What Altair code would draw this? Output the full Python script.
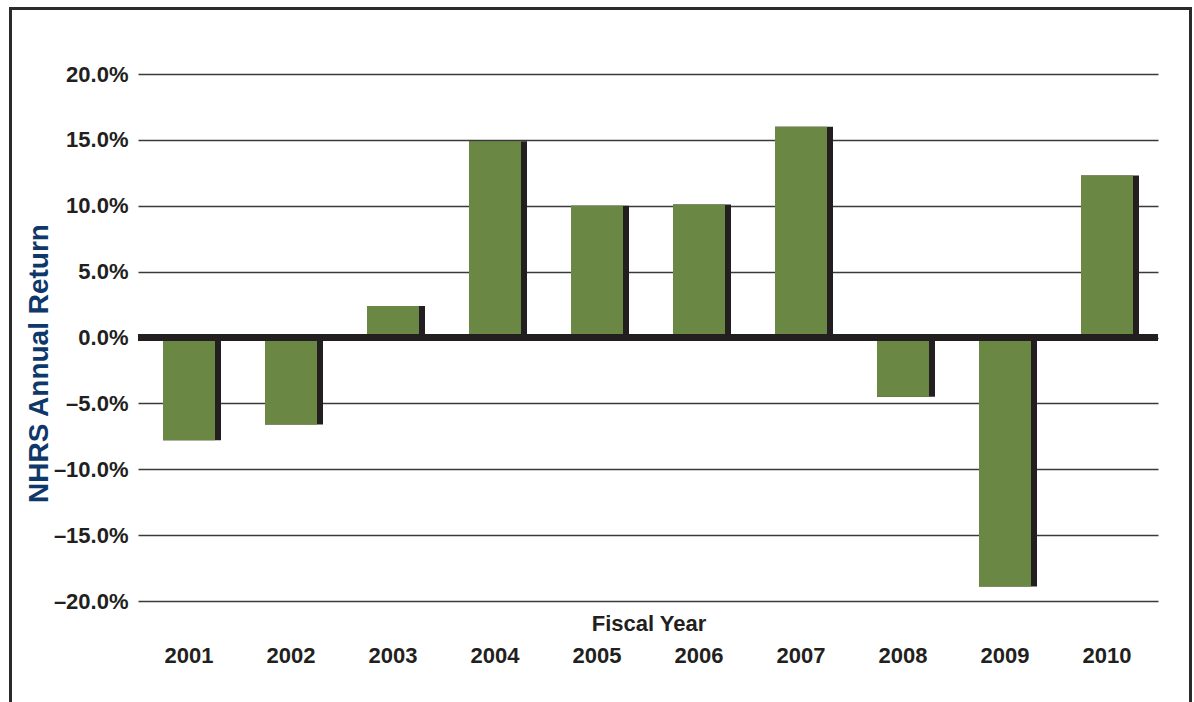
import altair as alt
import pandas as pd

years = ["2001", "2002", "2003", "2004", "2005", "2006", "2007", "2008", "2009", "2010"]
returns = [-7.8, -6.6, 2.4, 14.9, 10.0, 10.1, 16.0, -4.5, -18.9, 12.3]
y_ticks = [-20, -15, -10, -5, 0, 5, 10, 15, 20]

df = pd.DataFrame({"year": years, "ret": returns})

GREEN = "#6a8743"
DARK = "#231f20"
NAVY = "#0f386a"
SANS = "Liberation Sans, Arial, sans-serif"

x = alt.X(
    "year:N",
    sort=years,
    scale=alt.Scale(paddingInner=0.5, paddingOuter=0.25),
    axis=alt.Axis(
        title="Fiscal Year",
        labelFont=SANS,
        labelFontSize=22,
        labelFontWeight="bold",
        labelColor=DARK,
        labelAngle=0,
        labelBaseline="alphabetic",
        labelPadding=61,
        ticks=False,
        domain=False,
        grid=False,
        titleFont=SANS,
        titleFontSize=22,
        titleFontWeight="bold",
        titleColor=DARK,
        titleX=510.5,
        titleY=29,
        titleAlign="center",
        titleBaseline="alphabetic",
    ),
)

y = alt.Y(
    "ret:Q",
    scale=alt.Scale(domain=[-20, 20], nice=False, zero=False),
    axis=alt.Axis(
        values=y_ticks,
        labelExpr="datum.value < 0 ? '\u2013' + format(-datum.value, '.1f') + '%' : format(datum.value, '.1f') + '%'",
        labelFont=SANS,
        labelFontSize=22,
        labelFontWeight="bold",
        labelColor=DARK,
        labelPadding=10,
        ticks=False,
        domain=False,
        grid=True,
        gridColor="#3a3a3a",
        gridWidth=1.6,
        title="NHRS Annual Return",
        titleFont=SANS,
        titleFontSize=28,
        titleFontWeight="bold",
        titleColor=NAVY,
        titleAngle=270,
        titleAlign="center",
        titleBaseline="alphabetic",
        titleX=-91,
        titleY=289,
    ),
)

base = alt.Chart(df)

frame = alt.Chart(pd.DataFrame({"a": [0]})).mark_rect(
    fillOpacity=0, stroke="#2b2b2b", strokeWidth=3
).encode(
    x=alt.value(-127.5), x2=alt.value(1052.5), y=alt.value(-65.5), y2=alt.value(700)
)

shadow = base.mark_bar(width=58, xOffset=3, color=DARK).encode(x=x, y=y)
bars = base.mark_bar(width=52, color=GREEN).encode(x=x, y=y)
zero = base.mark_rule(color=DARK, strokeWidth=6).encode(y=alt.datum(0))

chart = alt.layer(frame, shadow, bars, zero).properties(
    width=1020,
    height=527,
    padding={"left": 138, "top": 74, "right": 36, "bottom": 101},
    autosize=alt.AutoSizeParams(type="none"),
    background="white",
).configure_view(stroke=None)

chart.save("out.html", embed_options={"renderer": "svg", "actions": False})
